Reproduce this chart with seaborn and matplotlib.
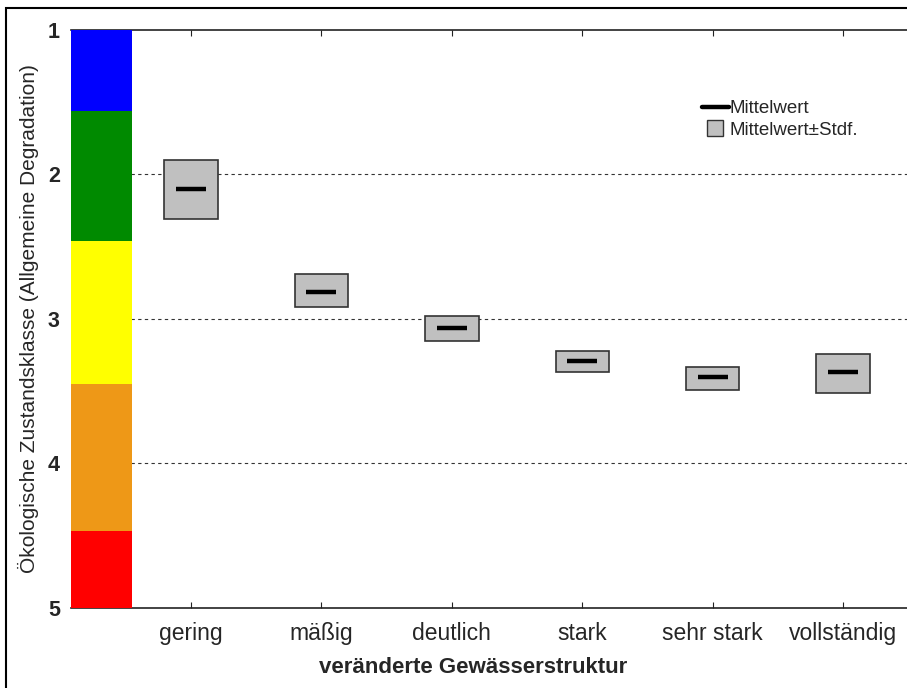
import numpy as np
import pandas as pd
import matplotlib
matplotlib.use('Agg')
import matplotlib.pyplot as plt
import matplotlib.patches as mpatches
from matplotlib.lines import Line2D
import seaborn as sns

sns.set_style('white')
plt.rcParams['font.family'] = ['Liberation Sans', 'DejaVu Sans']

# data
categories = ['gering', 'mäßig', 'deutlich', 'stark', 'sehr stark', 'vollständig']
mean_vals = [2.10, 2.81, 3.06, 3.29, 3.40, 3.37]
box_low = [1.90, 2.69, 2.98, 3.22, 3.33, 3.24]
box_high = [2.31, 2.92, 3.15, 3.37, 3.49, 3.51]

class_bounds = [1.0, 1.56, 2.46, 3.45, 4.47, 5.0]
class_colors = ['#0000ff', '#008a00', '#ffff00', '#ee9817', '#ff0000']

df = pd.DataFrame({'kat': categories, 'mean': mean_vals, 'lo': box_low, 'hi': box_high})
df['pos'] = np.arange(len(df))

fig = plt.figure(figsize=(9.07, 6.88), dpi=100)
ax = fig.add_axes([0.0783, 0.1163, 0.9217, 0.8401])

# color scale on the left
bar_x = -0.686
for i, c in enumerate(class_colors):
    ax.bar(bar_x, class_bounds[i + 1] - class_bounds[i], bottom=class_bounds[i],
           width=0.468, color=c, edgecolor='none', zorder=3)

# grid lines
for g in [2, 3, 4]:
    ax.axhline(g, color='#333333', linestyle=(0, (3, 3)), linewidth=0.8, zorder=1)

# mean +- stdf boxes
ax.bar(df['pos'], df['hi'] - df['lo'], bottom=df['lo'], width=0.41,
       color='#c0c0c0', edgecolor='#333333', linewidth=1.2, zorder=4)
sns.scatterplot(data=df, x='pos', y='mean', marker='_', s=470, color='black',
                linewidth=3.2, ax=ax, zorder=5, legend=False)

ax.set_xlim(-0.92, 5.49)
ax.set_ylim(5, 1)
ax.set_xticks(df['pos'])
ax.set_xticklabels(categories, fontsize=16.5)
ax.set_yticks([1, 2, 3, 4, 5])
ax.set_yticklabels(['1', '2', '3', '4', '5'], fontsize=15.5, fontweight='bold')
ax.tick_params(axis='x', direction='in', length=4, top=True, bottom=True, pad=10, color='#222222')
ax.tick_params(axis='y', length=0, pad=8)
ax.set_xlabel('veränderte Gewässerstruktur', fontsize=16, fontweight='bold')
ax.xaxis.set_label_coords(0.481, -0.085)
ax.set_ylabel('Ökologische Zustandsklasse (Allgemeine Degradation)', fontsize=15)
ax.yaxis.set_label_coords(-0.038, 0.5)

for s in ['left', 'right']:
    ax.spines[s].set_visible(False)
for s in ['top', 'bottom']:
    ax.spines[s].set_color('#222222')
    ax.spines[s].set_linewidth(1.2)

handles = [Line2D([0], [0], color='black', linewidth=3.2),
           Line2D([0], [0], linestyle='none', marker='s', markersize=11,
                  markerfacecolor='#c0c0c0', markeredgecolor='#333333')]
ax.legend(handles, ['Mittelwert', 'Mittelwert±Stdf.'], loc='upper left',
          bbox_to_anchor=(0.734, 0.908), frameon=False, fontsize=13.5,
          handlelength=1.45, handletextpad=0.05, labelspacing=0.25)

# outer frame
fig.patches.append(mpatches.Rectangle((6 / 907, -0.05), 1.1, 1 - 8 / 688 + 0.05,
                                      transform=fig.transFigure, fill=False,
                                      edgecolor='black', linewidth=1.5))

fig.savefig('out.png', dpi=100)
